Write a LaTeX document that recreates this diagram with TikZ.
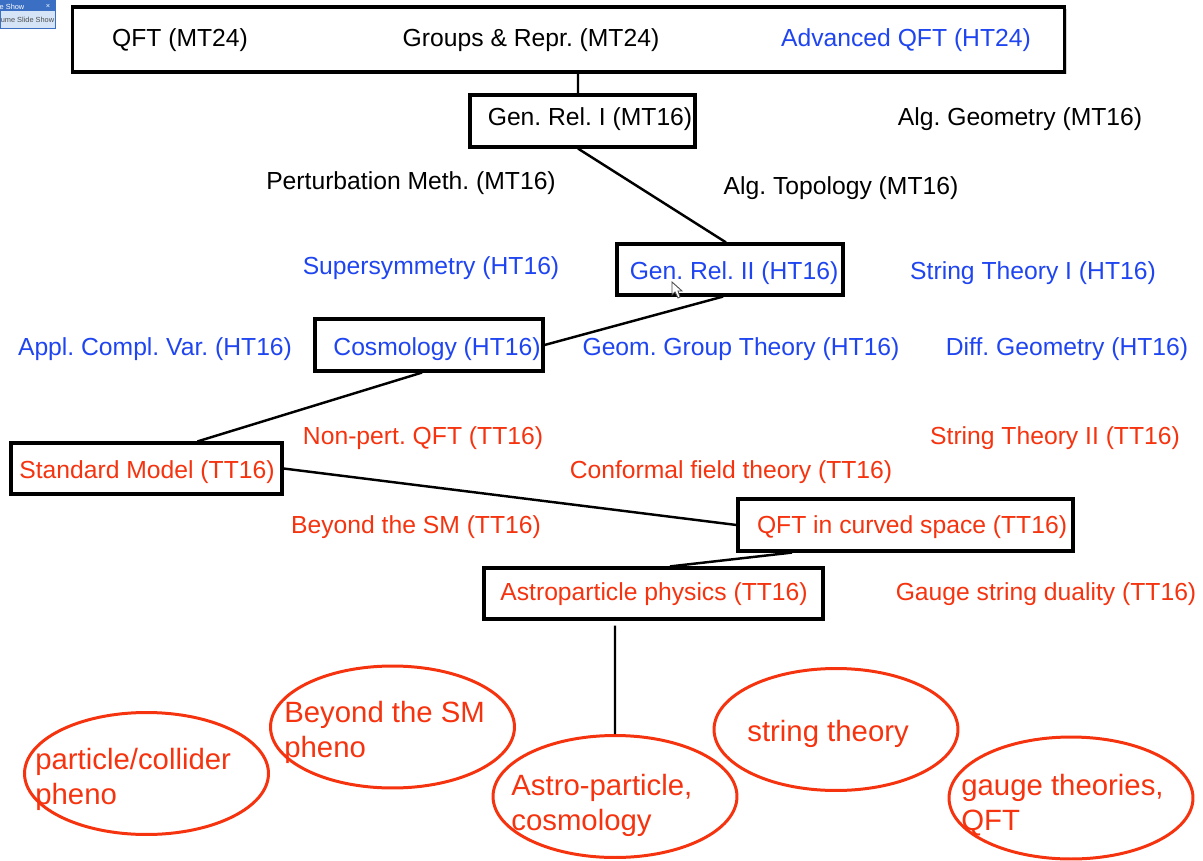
\documentclass[tikz,border=0pt]{standalone}
\usepackage{fontspec}
\setmainfont{Liberation Sans}
\usetikzlibrary{shadows}
\usetikzlibrary{shapes.geometric}
\definecolor{fgblue}{HTML}{1F45F0}
\definecolor{fgred}{HTML}{F5330F}
\definecolor{barblue}{HTML}{3A6FC4}
\definecolor{barpale}{HTML}{D5E5F7}
\frenchspacing
\begin{document}
\begin{tikzpicture}[
		x=0.02cm,
		y=-0.02cm,
		box/.style={draw=black,line width=1.8pt,fill=white,drop shadow={shadow xshift=1pt,shadow yshift=-1pt,opacity=0.35}},
		bubble/.style={ellipse,draw=fgred,line width=1.7pt,minimum width=4.88cm,minimum height=2.44cm},
		core/.style={font=\fontsize{14.05}{16}\selectfont,text=black,inner sep=0pt},
		hilary/.style={core,text=fgblue},
		trinity/.style={core,text=fgred},
		career/.style={font=\fontsize{16.7}{20}\selectfont,text=fgred,align=left,inner sep=0pt},
		link/.style={line width=1.4pt},
		tiny/.style={font=\fontsize{4.2}{5}\selectfont,inner sep=0pt},
	]
		\useasboundingbox (0,0) rectangle (1203,861);

		% toolbar
		\node (bar) [fill=barpale,draw=barblue,minimum width=1.1cm,minimum height=0.56cm,inner sep=0pt] at (27.5,14) {};
		\node (bartop) [fill=barblue,minimum width=1.1cm,minimum height=0.22cm,inner sep=0pt] at (27.5,6) {};
		\node (barname) [tiny,text=white] at (12,6.5) {e Show};
		\node (barclose) [tiny,text=white] at (48,6.5) {×};
		\node (barresume) [tiny,text=black!70] at (27.5,20) {ume Slide Show};

		% boxes
		\node (top) [box,minimum width=19.86cm,minimum height=1.3cm] at (568.5,39.5) {};
		\node (grone) [box,minimum width=4.5cm,minimum height=1.04cm] at (582.5,121) {};
		\node (grtwo) [box,minimum width=4.52cm,minimum height=1.02cm] at (730,269.5) {};
		\node (cosmo) [box,minimum width=4.56cm,minimum height=1.04cm] at (429,345) {};
		\node (sm) [box,minimum width=5.42cm,minimum height=1.02cm] at (146.5,468.5) {};
		\node (curved) [box,minimum width=6.7cm,minimum height=1.04cm] at (905.5,525) {};
		\node (astro) [box,minimum width=6.78cm,minimum height=1.02cm] at (653.5,593.5) {};

		% bubbles
		\node (collider) [bubble] at (146.5,773.5) {};
		\node (bsm) [bubble] at (392.5,727) {};
		\node (cosmology) [bubble] at (615,796.5) {};
		\node (strings) [bubble] at (836,729.5) {};
		\node (gauge) [bubble] at (1071,798) {};

		% michaelmas
		\node (qft) [core] at (180,40) {QFT (MT24)};
		\node (groups) [core] at (531,40) {Groups \& Repr. (MT24)};
		\node (grlabel) [core] at (590,119) {Gen. Rel. I (MT16)};
		\node (alggeo) [core] at (1020,119) {Alg. Geometry (MT16)};
		\node (perturb) [core] at (411,183) {Perturbation Meth. (MT16)};
		\node (algtop) [core] at (841,188) {Alg. Topology (MT16)};

		% hilary
		\node (advqft) [hilary] at (906,40) {Advanced QFT (HT24)};
		\node (susy) [hilary] at (431,268) {Supersymmetry (HT16)};
		\node (grtwolabel) [hilary] at (734,273) {Gen. Rel. II (HT16)};
		\node (stringone) [hilary] at (1033,273) {String Theory I (HT16)};
		\node (complex) [hilary] at (155,349) {Appl. Compl. Var. (HT16)};
		\node (cosmolabel) [hilary] at (437,349) {Cosmology (HT16)};
		\node (geomgroup) [hilary] at (741,349) {Geom. Group Theory (HT16)};
		\node (diffgeo) [hilary] at (1067,349) {Diff. Geometry (HT16)};

		% trinity
		\node (nonpert) [trinity] at (423,438) {Non-pert. QFT (TT16)};
		\node (stringtwo) [trinity] at (1055,438) {String Theory II (TT16)};
		\node (conformal) [trinity] at (731,472) {Conformal field theory (TT16)};
		\node (smlabel) [trinity] at (147,472) {Standard Model (TT16)};
		\node (beyond) [trinity] at (416,527) {Beyond the SM (TT16)};
		\node (curvedlabel) [trinity] at (912,527) {QFT in curved space (TT16)};
		\node (astrolabel) [trinity] at (654,594) {Astroparticle physics (TT16)};
		\node (duality) [trinity] at (1046,594) {Gauge string duality (TT16)};

		% careers
		\node (colliderlabel) [career,anchor=west] at (35,779.5) {particle/collider\\pheno};
		\node (bsmlabel) [career,anchor=west] at (284,732.5) {Beyond the SM\\pheno};
		\node (cosmologylabel) [career,anchor=west] at (511,805) {Astro-particle,\\cosmology};
		\node (stringslabel) [career,anchor=west] at (747,733.5) {string theory};
		\node (gaugelabel) [career,anchor=west] at (961,805) {gauge theories,\\QFT};

		% prerequisites
		\path [link] ([xshift=0.19cm]top.south) edge ([xshift=-0.09cm]grone.north);
		\path [link] ([xshift=-0.09cm]grone.south) edge ([xshift=-0.08cm]grtwo.north);
		\path [link] ([xshift=-0.14cm]grtwo.south) edge (cosmo.east);
		\path [link] ([xshift=-0.14cm]cosmo.south) edge ([xshift=1.02cm]sm.north);
		\path [link] (sm.east) edge (curved.west);
		\path [link] ([xshift=-2.27cm]curved.south) edge ([xshift=0.33cm]astro.north);
		\path [link] ([xshift=-0.77cm,yshift=-0.1cm]astro.south) edge (cosmology.north);

		% pointer
		\draw [fill=white,draw=black!70,line width=0.5pt] (672,282) -- (672,295) -- (675,292) -- (678,298) -- (680,297) -- (678,291) -- (682,291) -- cycle;
	\end{tikzpicture}
\end{document}
